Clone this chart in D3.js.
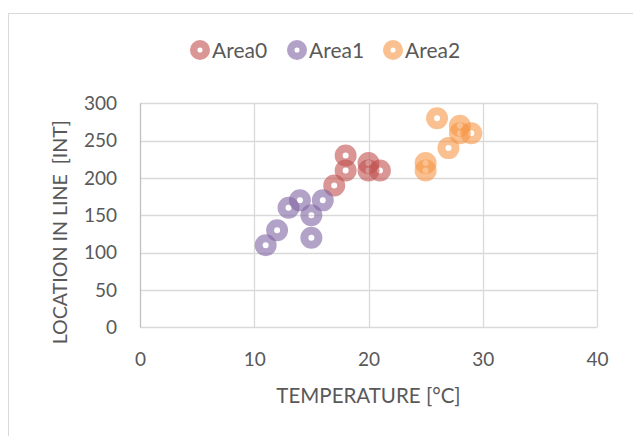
<!DOCTYPE html>
<html>
<head>
<meta charset="utf-8">
<script src="https://cdn.jsdelivr.net/npm/d3@7"></script>
<style>
  html, body { margin: 0; padding: 0; background: #fff; }
  text { font-family: Lato, "Open Sans", sans-serif; fill: #595959; white-space: pre; }
</style>
</head>
<body>
<svg id="chart" width="633" height="436"></svg>
<script>
const seriesNames = ["Area0", "Area1", "Area2"];
const seriesColors = ["#C0504D", "#8064A2", "#F79646"];
const area0X = [17, 18, 18, 20, 20, 21];
const area0Y = [190, 230, 210, 220, 210, 210];
const area1X = [11, 12, 13, 14, 15, 15, 16];
const area1Y = [110, 130, 160, 170, 150, 120, 170];
const area2X = [26, 28, 28, 29, 27, 25, 25];
const area2Y = [280, 270, 260, 260, 240, 220, 210];
const xTicks = [0, 10, 20, 30, 40];
const yTicks = [0, 50, 100, 150, 200, 250, 300];
const xTitle = "TEMPERATURE [°C]";
const yTitle = "LOCATION IN LINE  [INT]";

const seriesX = [area0X, area1X, area2X];
const seriesY = [area0Y, area1Y, area2Y];

const svg = d3.select("#chart");
const m = { left: 140, right: 597, top: 103.3, bottom: 327.3 };

// chart border
svg.append("rect").attr("x", 8.5).attr("y", 13.5).attr("width", 640).attr("height", 440)
  .attr("fill", "none").attr("stroke", "#d9d9d9").attr("stroke-width", 1);

const x = d3.scaleLinear().domain([0, 40]).range([m.left, m.right]);
const y = d3.scaleLinear().domain([0, 300]).range([m.bottom, m.top]);

// gridlines
const g = svg.append("g");
g.selectAll("line.h").data(yTicks).join("line")
  .attr("x1", m.left).attr("x2", m.right)
  .attr("y1", d => Math.round(y(d)) + 0.5).attr("y2", d => Math.round(y(d)) + 0.5)
  .attr("stroke", "#d9d9d9").attr("stroke-width", 1.3);
g.selectAll("line.v").data(xTicks).join("line")
  .attr("y1", m.top).attr("y2", m.bottom)
  .attr("x1", d => Math.round(x(d)) + 0.5).attr("x2", d => Math.round(x(d)) + 0.5)
  .attr("stroke", d => d === 0 ? "#bfbfbf" : "#d9d9d9").attr("stroke-width", 1.3);

// axes (labels only)
const xAxis = svg.append("g").attr("transform", `translate(0,${m.bottom})`)
  .call(d3.axisBottom(x).tickValues(xTicks).tickSize(0).tickPadding(25));
const yAxis = svg.append("g").attr("transform", `translate(${m.left},0)`)
  .call(d3.axisLeft(y).tickValues(yTicks).tickSize(0).tickPadding(23));
[xAxis, yAxis].forEach(a => {
  a.select(".domain").remove();
  a.selectAll("text").attr("font-size", 19).attr("fill", "#595959")
    .attr("font-family", "Lato, 'Open Sans', sans-serif");
});

// axis titles
svg.append("text").attr("x", (m.left + m.right) / 2).attr("y", 403)
  .attr("text-anchor", "middle").attr("font-size", 20.5).text(xTitle);
svg.append("text").attr("transform", `translate(67,${(m.top + m.bottom) / 2 + 17}) rotate(-90)`)
  .attr("text-anchor", "middle").attr("font-size", 19.6).text(yTitle);

// points
const pts = svg.append("g");
seriesNames.forEach((name, i) => {
  const data = seriesX[i].map((v, j) => ({ x: v, y: seriesY[i][j] }));
  pts.append("g").selectAll("circle").data(data).join("circle")
    .attr("cx", d => x(d.x)).attr("cy", d => y(d.y))
    .attr("r", 7).attr("fill", "none")
    .attr("stroke", seriesColors[i]).attr("stroke-opacity", 0.6)
    .attr("stroke-width", 8);
});

// legend
const legX = [200, 297, 393];
const leg = svg.append("g");
seriesNames.forEach((name, i) => {
  leg.append("circle").attr("cx", legX[i]).attr("cy", 50).attr("r", 6.3)
    .attr("fill", "#fff").attr("stroke", seriesColors[i]).attr("stroke-opacity", 0.6)
    .attr("stroke-width", 7.5);
  leg.append("text").attr("x", legX[i] + 12).attr("y", 50).attr("dy", "0.36em")
    .attr("font-size", 21).text(name);
});
</script>
</body>
</html>
